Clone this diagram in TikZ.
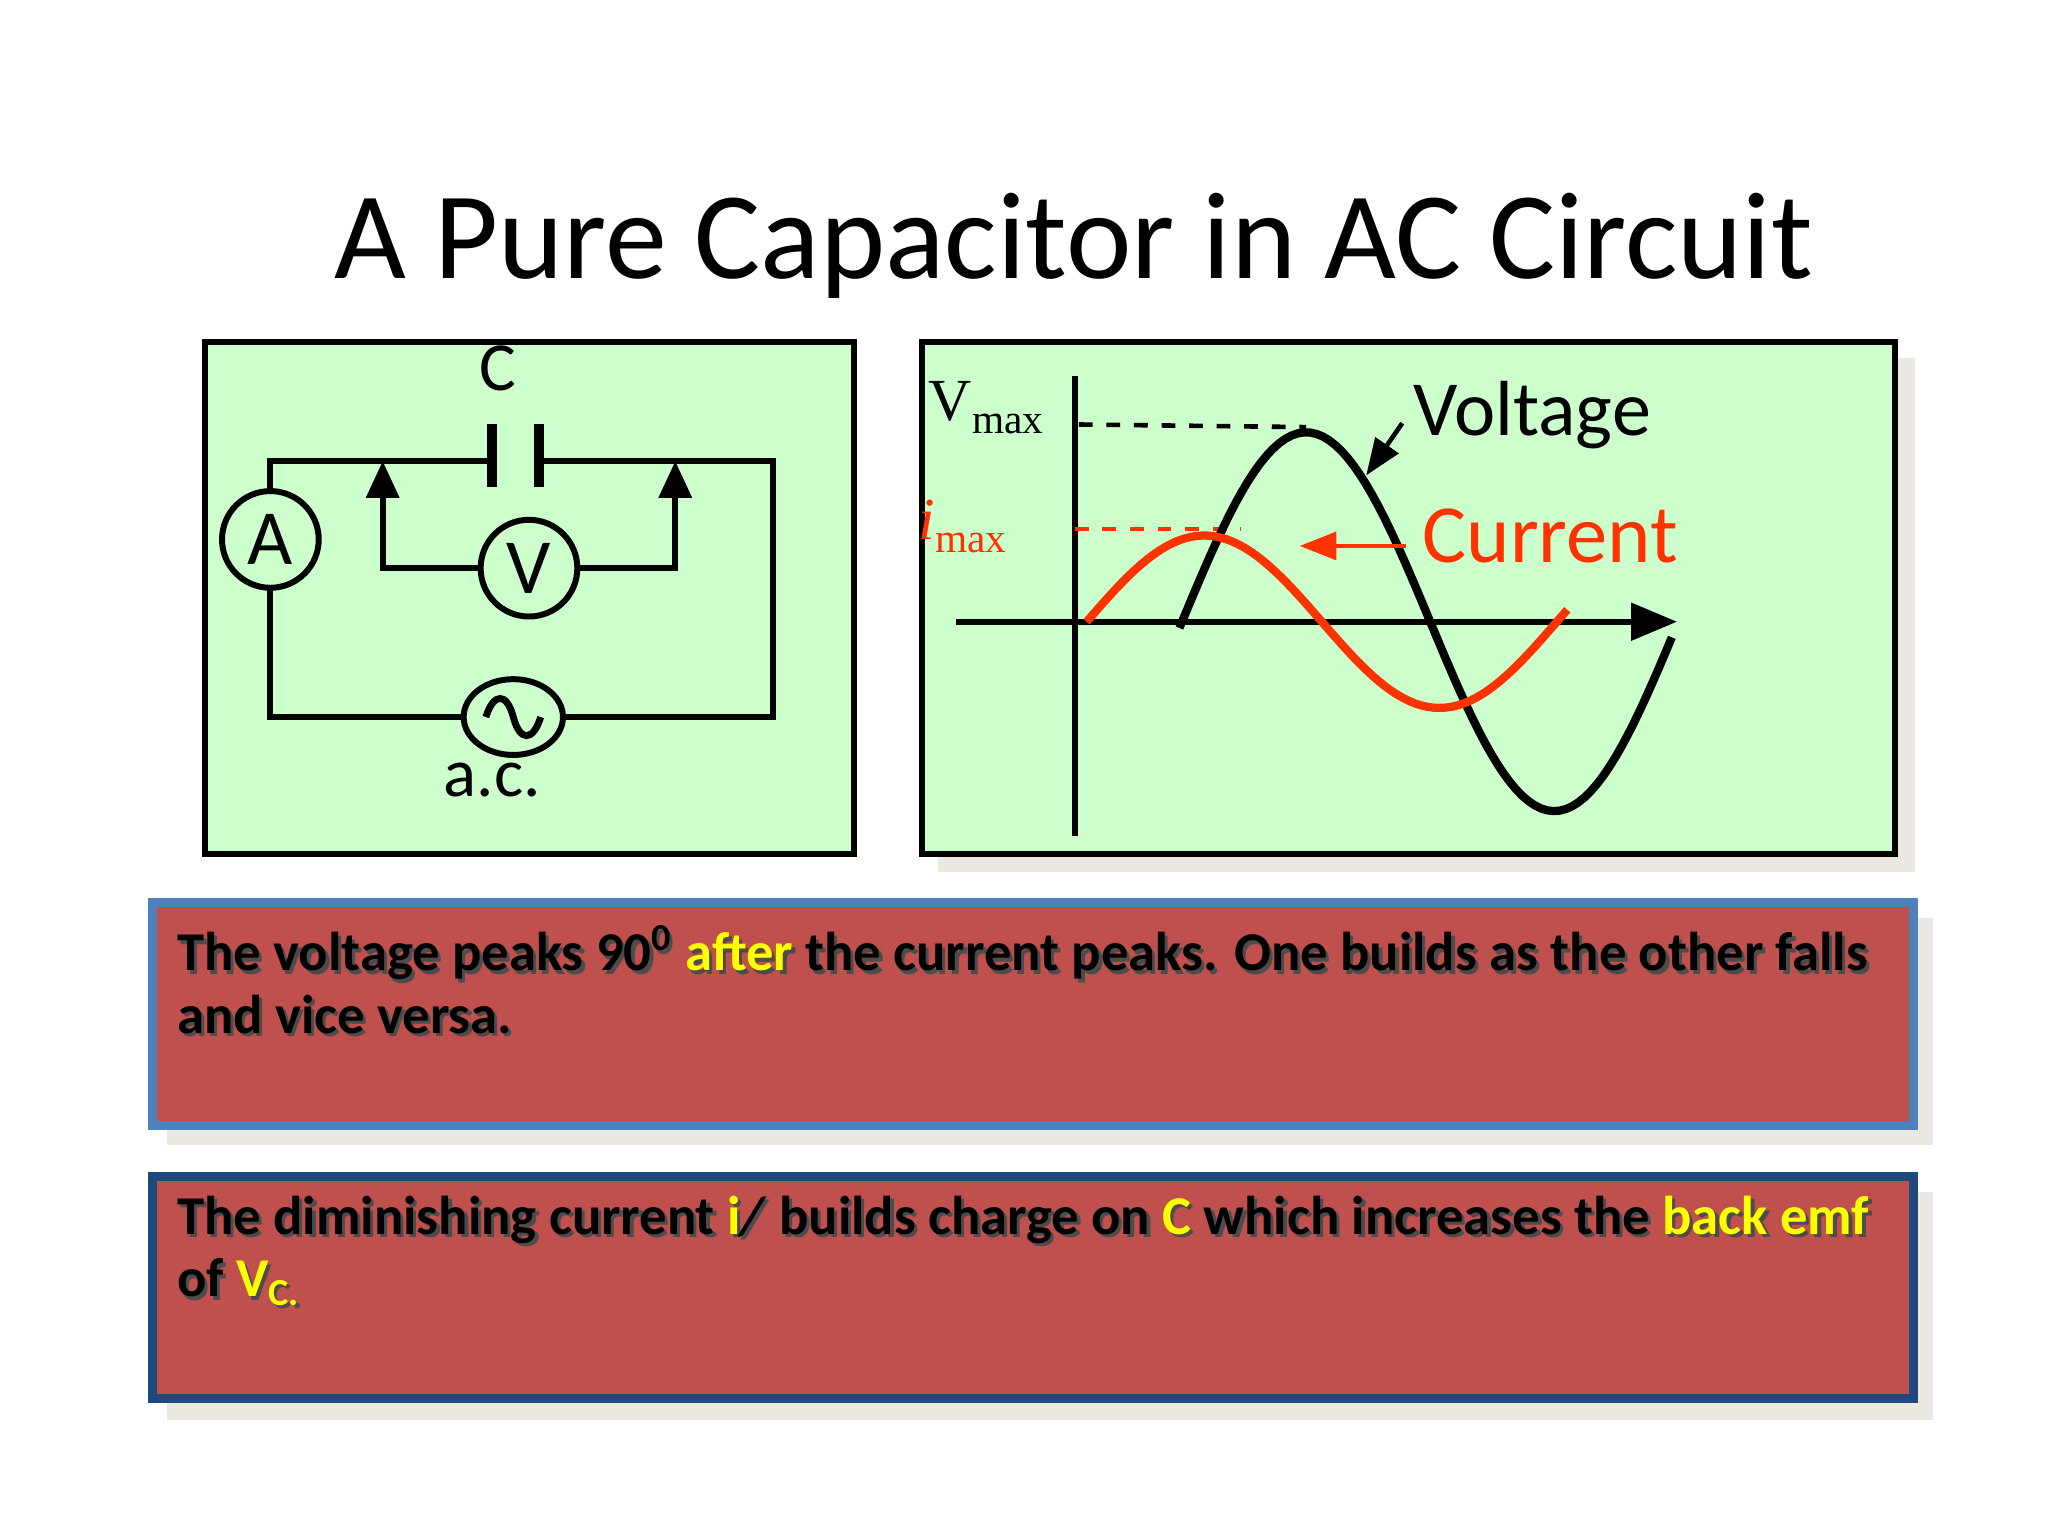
\documentclass[tikz,border=0pt]{standalone}
\usepackage{fontspec}
\setmainfont{Carlito}
\newfontfamily\tnr{Liberation Serif}
\usetikzlibrary{arrows.meta,shapes.geometric}
\definecolor{pg}{HTML}{CCFFCC}
\definecolor{cur}{HTML}{FF3300}
\definecolor{boxr}{HTML}{C0504D}
\definecolor{b1}{HTML}{4F81BD}
\definecolor{b2}{HTML}{1F497D}
\definecolor{shd}{HTML}{EAE8E0}
\definecolor{yel}{HTML}{FFFF00}
\tikzset{wire/.style={line width=1.3pt},
 panel/.style={draw=black,line width=1.3pt,fill=pg},
 meter/.style={circle,draw,line width=1.3pt,fill=pg,minimum size=0.74cm,inner sep=0pt,font=\fontsize{17}{17}\selectfont},
 tbox/.style={fill=boxr,line width=2pt},
 btxt/.style={anchor=north west,align=left,inner sep=0pt,font=\fontsize{11.9}{13.6}\selectfont\bfseries},
 shadowtxt/.style={btxt,text=gray!60!black}}
\begin{document}
\begin{tikzpicture}[x=0.01cm,y=-0.01cm]
\useasboundingbox (0,0) rectangle (1568,1176);
\fill[white] (0,0) rectangle (1568,1176);
\node (title) at (822,188) {\fontsize{27}{27}\selectfont A Pure Capacitor in AC Circuit};
% panels
\fill[shd] (718,274) rectangle (1466,668);
\draw[panel] (157,262) rectangle (654,654);
\draw[panel] (706,262) rectangle (1451,654);
% circuit
\coordinate (tl) at (207,353); \coordinate (tr) at (592,353);
\coordinate (bl) at (207,549); \coordinate (br) at (592,549);
\draw[wire] (377,353) -- (tl) -- (bl) -- (br) -- (tr) -- (413,353);
\draw[line width=2.2pt] (377,325) -- (377,373) (413,325) -- (413,373);
\node (C) at (381,282) {\fontsize{15}{15}\selectfont C};
\node[meter] (A) at (207,413) {A};
\coordinate (vl) at (293,353); \coordinate (vr) at (517,353);
\node[meter] (V) at (405,435) {V};
\draw[wire,-{Triangle[width=7pt,length=8pt]}] (V.west) -| (vl);
\draw[wire,-{Triangle[width=7pt,length=8pt]}] (V.east) -| (vr);
\node[ellipse,draw,line width=1.3pt,fill=pg,minimum width=0.76cm,minimum height=0.58cm] (ac) at (393,549) {};
\draw[line width=1.5pt] (372,549) .. controls (378,530) and (388,530) .. (393,549) .. controls (398,568) and (408,568) .. (414,549);
\node (acl) at (377,597) {\fontsize{15}{15}\selectfont a.c.};
% graph
\coordinate (ya) at (823,288); \coordinate (yb) at (823,640);
\coordinate (xa) at (732,476); \coordinate (xb) at (1284,476);
\draw[wire] (ya) -- (yb);
\draw[wire,-{Triangle[width=8pt,length=10pt]}] (xa) -- (xb);
\node (vmax) at (755,312) {\tnr\fontsize{13}{13}\selectfont V\raisebox{-0.45ex}{\fontsize{9}{9}\selectfont max}};
\node[text=cur] (imax) at (737,403) {\tnr\fontsize{13}{13}\selectfont\itshape i\raisebox{-0.45ex}{\fontsize{9}{9}\selectfont\upshape max}};
\draw[dashed,line width=1pt] (826,325) -- (1000,327);
\draw[dashed,line width=1pt,cur] (823,405) -- (950,405);
\draw[line width=1.8pt,domain=903:1280,samples=80,variable=\t] plot (\t,{476-145*sin((\t-905)/190*180)});
\draw[line width=1.8pt,cur,domain=832:1200,samples=80,variable=\t] plot (\t,{476-66*sin((\t-832)/180*180)});
\node (volt) at (1173,318) {\fontsize{17}{17}\selectfont Voltage};
\node[text=cur] (curr) at (1187,410) {\fontsize{18}{18}\selectfont Current};
\draw[line width=1pt,-{Triangle[width=6pt,length=8pt]}] ([shift={(4,6)}]volt.west) -- (1046,364);
\draw[line width=1pt,cur,-{Triangle[width=6pt,length=8pt]}] ([shift={(0,8)}]curr.west) -- (995,418);
% text boxes
\fill[shd] (128,703) rectangle (1480,877);
\draw[tbox,draw=b1] (117,691) rectangle (1465,862);
\fill[shd] (128,913) rectangle (1480,1087);
\draw[tbox,draw=b2] (117,901) rectangle (1465,1071);
\node[shadowtxt] (s1) at (137.5,710.5) {The voltage peaks 90\textsuperscript{0} after the current peaks. One builds as the other falls\\and vice versa.};
\node[btxt] (t1) at (135,708) {The voltage peaks 90\textsuperscript{0} \textcolor{yel}{after} the current peaks. One builds as the other falls\\and vice versa.};
\node[shadowtxt] (s2) at (137.5,917.5) {The diminishing current i\textit{/} builds charge on C which increases the back emf\\of V\textsubscript{C.}};
\node[btxt] (t2) at (135,915) {The diminishing current \textcolor{yel}{i}\textit{/} builds charge on \textcolor{yel}{C} which increases the \textcolor{yel}{back emf}\\of \textcolor{yel}{V\textsubscript{C.}}};
\end{tikzpicture}
\end{document}
